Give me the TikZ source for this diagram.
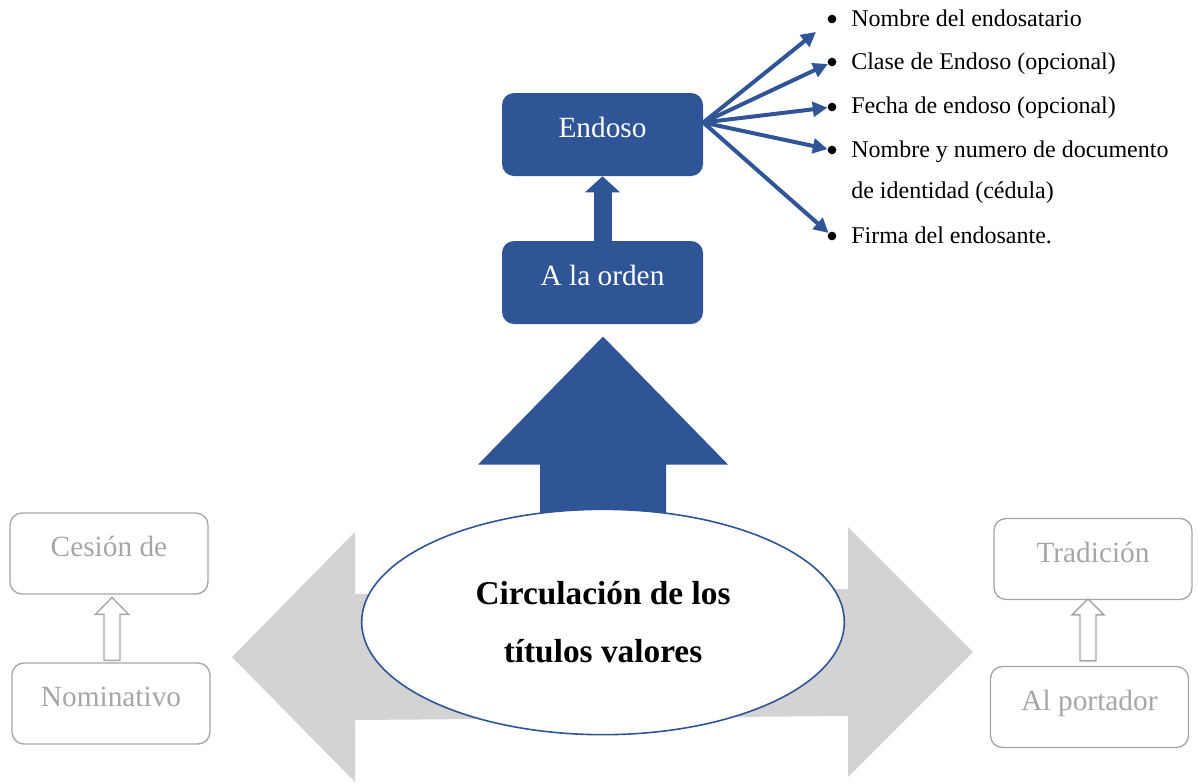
\documentclass[tikz,border=0pt]{standalone}
\usepackage{fontspec}
\setmainfont{Liberation Serif}
\usetikzlibrary{positioning,arrows.meta,shapes.geometric,backgrounds}
\definecolor{endblue}{HTML}{2F5597}
\definecolor{arrowgray}{HTML}{D3D3D3}
\definecolor{boxgray}{HTML}{A6A6A6}
\begin{document}
\begin{tikzpicture}[x=0.75pt,y=-0.75pt,
    bluebox/.style={rectangle,rounded corners=9pt,fill=endblue,text=white,
      minimum width=150.75pt,minimum height=62.25pt,
      font=\fontsize{22}{26}\selectfont,text height=16pt,text depth=12pt},
    graybox/.style={rectangle,rounded corners=9pt,draw=boxgray,line width=1pt,
      text=boxgray,minimum width=148.5pt,minimum height=60.75pt,
      font=\fontsize{22}{26}\selectfont,text height=16pt,text depth=11pt},
    hollow/.style={draw=boxgray,line width=1pt,fill=white},
    dot/.style={circle,fill=black,inner sep=0pt,minimum size=6.5pt},
    item/.style={anchor=base west,inner sep=0pt,font=\fontsize{18}{21}\selectfont},
    fanarrow/.style={endblue,line width=3pt,-{Triangle[length=11pt,width=11pt]}}]
  \useasboundingbox (0,0) rectangle (1198,783);

  % centre
  \node[ellipse,draw=endblue,line width=1.2pt,fill=white,minimum width=362pt,
    minimum height=169pt,align=center,font=\fontsize{25}{43.5}\selectfont\bfseries]
    (circ) at (603,622) {Circulación de los\\títulos valores};

  % a la orden
  \node[bluebox] (orden) at (602.5,282.5) {A la orden};
  \node[bluebox] (endoso) at (602.5,134.5) {Endoso};

  % nominativo / al portador
  \node[graybox] (nomin) at (111,703.5) {Nominativo};
  \node[graybox] (cesion) at (109,553.5) {Cesión de};
  \node[graybox] (portad) at (1089.5,707) {Al portador};
  \node[graybox] (tradic) at (1093,559) {Tradición};

  \begin{scope}[on background layer]
    \fill[arrowgray] (232,657) -- (355,532) -- (355,594) -- (848,589) -- (848,527)
      -- (973,652) -- (848,777) -- (848,716) -- (355,720) -- (355,782) -- cycle;
    \fill[endblue] (circ.north) ++(-63,10) -- ++(0,-54) -- ++(-62,0) -- ++(125,-128)
      -- ++(125,128) -- ++(-62,0) -- ++(0,54) -- cycle;
  \end{scope}

  \draw[endblue,line width=13.5pt,-{Triangle[length=12pt,width=25.5pt]}]
    (orden.north) -- (endoso.south);

  \draw[hollow] (nomin.north) ++(-7,-2) -- ++(0,-46) -- ++(-8.5,0) -- ++(16.5,-17)
    -- ++(16.5,17) -- ++(-8.5,0) -- ++(0,46) -- cycle;
  \draw[hollow] (portad.north) ++(-9.5,-5) -- ++(0,-46) -- ++(-8,0) -- ++(16,-16)
    -- ++(16,16) -- ++(-8,0) -- ++(0,46) -- cycle;

  % requisitos del endoso
  \node[dot] (dot1) at (832,19) {};
  \node[dot] (dot2) at (832,62) {};
  \node[dot] (dot3) at (832,107) {};
  \node[dot] (dot4) at (832,150) {};
  \node[dot] (dot5) at (832,236) {};
  \node[item] (txt1) at (851,26) {Nombre del endosatario};
  \node[item] (txt2) at (851,69) {Clase de Endoso (opcional)};
  \node[item] (txt3) at (851,113) {Fecha de endoso (opcional)};
  \node[item] (txt4) at (851,157) {Nombre y numero de documento};
  \node[item] (txt4b) at (851,198) {de identidad (cédula)};
  \node[item] (txt5) at (851,243) {Firma del endosante.};

  \coordinate (fan) at ([yshift=9pt]endoso.east);
  \draw[fanarrow,shorten >=12pt] (fan) -- (dot1);
  \foreach \i in {2,...,5}
    \draw[fanarrow] (fan) -- (dot\i);
\end{tikzpicture}
\end{document}
